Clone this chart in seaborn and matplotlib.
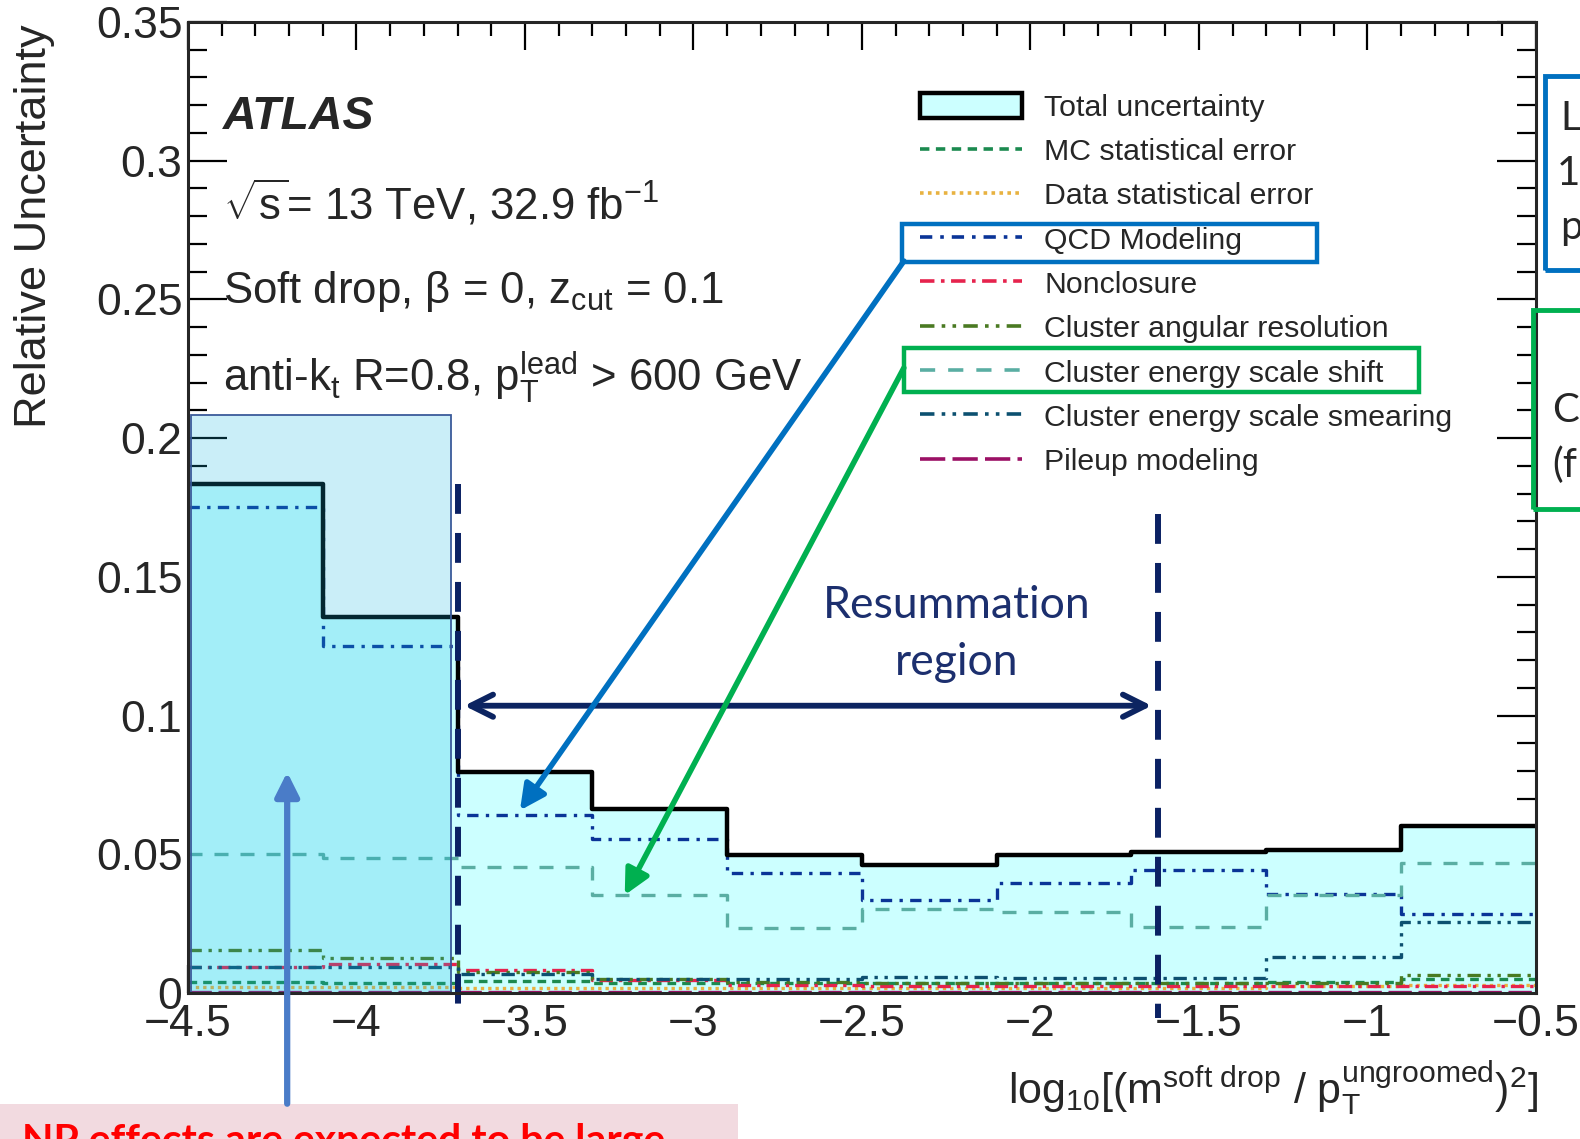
import numpy as np
import pandas as pd
import matplotlib
matplotlib.use('Agg')
import matplotlib.pyplot as plt
import seaborn as sns
from matplotlib.patches import Rectangle, Patch, FancyArrowPatch
from matplotlib.lines import Line2D
from matplotlib.ticker import MultipleLocator

# 数据：每个bin的相对不确定度
bin_edges = [-4.5, -4.1, -3.7, -3.3, -2.9, -2.5, -2.1, -1.7, -1.3, -0.9, -0.5]
total_unc = [0.1836, 0.1356, 0.0796, 0.0665, 0.0498, 0.0462, 0.0498, 0.0509, 0.0516, 0.0604]
mc_stat = [0.0040, 0.0035, 0.0044, 0.0035, 0.0035, 0.0035, 0.0035, 0.0035, 0.0040, 0.0050]
data_stat = [0.0022, 0.0022, 0.0020, 0.0020, 0.0020, 0.0020, 0.0020, 0.0020, 0.0025, 0.0030]
qcd_modeling = [0.1753, 0.1251, 0.0644, 0.0557, 0.0433, 0.0335, 0.0396, 0.0444, 0.0356, 0.0287]
nonclosure = [0.0095, 0.0105, 0.0084, 0.0047, 0.0030, 0.0025, 0.0025, 0.0025, 0.0025, 0.0025]
angular_res = [0.0156, 0.0127, 0.0075, 0.0050, 0.0040, 0.0036, 0.0036, 0.0036, 0.0036, 0.0065]
es_shift = [0.0502, 0.0487, 0.0455, 0.0353, 0.0236, 0.0305, 0.0291, 0.0240, 0.0353, 0.0469]
es_smearing = [0.0095, 0.0095, 0.0069, 0.0050, 0.0050, 0.0060, 0.0055, 0.0055, 0.0130, 0.0255]
pileup = [0.0005, 0.0005, 0.0005, 0.0005, 0.0005, 0.0005, 0.0005, 0.0005, 0.0005, 0.0005]

labels = ['Total uncertainty', 'MC statistical error', 'Data statistical error', 'QCD Modeling',
          'Nonclosure', 'Cluster angular resolution', 'Cluster energy scale shift',
          'Cluster energy scale smearing', 'Pileup modeling']

# 区域边界
resum_low, resum_high = -3.7, -1.62
np_region_low, np_region_high, np_region_top = -4.49, -3.72, 0.2084
arrow_y = 0.1036

sns.set_theme(style='ticks')
plt.rcParams['font.family'] = ['Liberation Sans', 'DejaVu Sans']
plt.rcParams['mathtext.fontset'] = 'custom'
plt.rcParams['mathtext.rm'] = 'Liberation Sans'
plt.rcParams['mathtext.it'] = 'Liberation Sans:italic'
plt.rcParams['mathtext.bf'] = 'Liberation Sans:bold'

fig = plt.figure(figsize=(15.8, 11.39), dpi=100)
ax = fig.add_axes([0.119, 0.128, 0.853, 0.8527])

edges = np.array(bin_edges)
centers = (edges[:-1] + edges[1:]) / 2

# 总不确定度填充
sns.histplot(x=centers, weights=total_unc, bins=bin_edges, element='step', fill=True,
             color='#ccffff', alpha=1, edgecolor='none', linewidth=0, ax=ax, zorder=1)

styles = [
    (mc_stat, '#1b8a4f', (0, (2.6, 1.8))),
    (data_stat, '#e8b240', (0, (1.0, 1.2))),
    (qcd_modeling, '#0a3497', (0, (3.4, 2.2, 1.0, 2.2))),
    (nonclosure, '#e6234d', (0, (4.0, 1.8, 1.0, 1.8))),
    (angular_res, '#4a7a22', (0, (4.0, 2.0, 1.0, 2.0, 1.0, 2.0))),
    (es_shift, '#5aaea3', (0, (4.2, 3.6))),
    (es_smearing, '#0c5070', (0, (4.0, 2.0, 1.0, 2.0, 1.0, 2.0))),
    (pileup, '#9b1065', (0, (7.0, 2.0))),
]
for vals, col, ls in styles:
    sns.histplot(x=centers, weights=vals, bins=bin_edges, element='step', fill=False,
                 color=col, linestyle=ls, linewidth=2.4, ax=ax, zorder=3)

# 总不确定度轮廓
sns.histplot(x=centers, weights=total_unc, bins=bin_edges, element='step', fill=False,
             color='black', linewidth=3.2, ax=ax, zorder=4)

# NP 区域阴影
ax.add_patch(Rectangle((np_region_low, 0), np_region_high - np_region_low, np_region_top,
                       facecolor=(0.07, 0.70, 0.88, 0.22), edgecolor='#3a5a9a', lw=1.3, zorder=5))

# 共振求和区域的竖线与箭头
for xv, ytop in [(resum_low, total_unc[0]), (resum_high, 0.1727)]:
    ax.plot([xv, xv], [ytop, -0.009], color='#0b2163', lw=4.3, ls=(0, (5, 3.2)),
            zorder=6, clip_on=False)
ax.annotate('', xy=(resum_low + 0.02, arrow_y), xytext=(resum_high - 0.02, arrow_y),
            arrowprops=dict(arrowstyle='<->', color='#0c2461', lw=4.2, mutation_scale=40,
                            shrinkA=0, shrinkB=0), zorder=7)
ax.text(-2.22, 0.1396, 'Resummation', family='Lato', fontsize=32, color='#1c2f6e',
        ha='center', va='center', zorder=7)
ax.text(-2.22, 0.1190, 'region', family='Lato', fontsize=32, color='#1c2f6e',
        ha='center', va='center', zorder=7)

# 坐标轴
ax.set_xlim(-4.5, -0.5)
ax.set_ylim(0, 0.35)
ax.xaxis.set_minor_locator(MultipleLocator(0.1))
ax.yaxis.set_minor_locator(MultipleLocator(0.01))
ax.set_xticks([-4.5, -4, -3.5, -3, -2.5, -2, -1.5, -1, -0.5])
ax.set_xticklabels(['\u22124.5', '\u22124', '\u22123.5', '\u22123', '\u22122.5', '\u22122',
                    '\u22121.5', '\u22121', '\u22120.5'])
ax.set_yticks([0, 0.05, 0.1, 0.15, 0.2, 0.25, 0.3, 0.35])
ax.set_yticklabels(['0', '0.05', '0.1', '0.15', '0.2', '0.25', '0.3', '0.35'])
ax.tick_params(axis='both', which='both', direction='in', top=True, right=True,
               labelsize=32, width=1.6, color='black')
ax.tick_params(axis='x', which='major', length=20, pad=8)
ax.tick_params(axis='x', which='minor', length=10)
ax.tick_params(axis='y', which='major', length=28, pad=4)
ax.tick_params(axis='y', which='minor', length=14)
for sp in ax.spines.values():
    sp.set_linewidth(2.2)
    sp.set_zorder(8)
ax.set_xlabel('')
ax.set_ylabel('')

fig.text(0.022, 0.979, 'Relative Uncertainty', rotation=90, ha='center', va='top', fontsize=32.5)
fig.text(0.9735, 0.018,
         r'$\mathrm{log}_{10}[(\mathrm{m}^{\mathrm{soft\ drop}}\ /\ \mathrm{p}_{\mathrm{T}}^{\mathrm{ungroomed}})^{2}]$',
         ha='right', va='bottom', fontsize=31)

# ATLAS 标签
ax.text(0.026, 0.902, 'ATLAS', transform=ax.transAxes, fontsize=33.5, fontweight='bold',
        fontstyle='italic', va='center', ha='left')
ax.text(0.026, 0.813, r'$\sqrt{\mathrm{s}}$= 13 TeV, 32.9 fb$^{\mathrm{-1}}$', transform=ax.transAxes,
        fontsize=31.5, va='center', ha='left')
ax.text(0.026, 0.722, r'Soft drop, β = 0, z$_{\mathrm{cut}}$ = 0.1', transform=ax.transAxes,
        fontsize=31.5, va='center', ha='left')
ax.text(0.026, 0.634, r'anti-k$_{\mathrm{t}}$ R=0.8, p$_{\mathrm{T}}^{\mathrm{lead}}$ > 600 GeV',
        transform=ax.transAxes, fontsize=31.5, va='center', ha='left')

# 图例
handles = [Patch(facecolor='#ccffff', edgecolor='black', linewidth=3.2)]
for vals, col, ls in styles:
    handles.append(Line2D([0], [0], color=col, linestyle=ls, linewidth=2.6))
leg = ax.legend(handles, labels, loc='upper left', bbox_to_anchor=(0.5275, 0.949), frameon=False,
                fontsize=21.8, handlelength=3.35, handleheight=0.9, handletextpad=0.75,
                labelspacing=0.505, borderpad=0.2)
leg.set_zorder(9)

# 彩色标注框与箭头（图像坐标）
def fx(px):
    return px / 1568.0

def fy(py):
    return 1 - py / 1130.0

fig.patches.append(Rectangle((fx(895), fy(260)), fx(1307) - fx(895), fy(222) - fy(260),
                             transform=fig.transFigure, fill=False, edgecolor='#0070c0', lw=3.2))
fig.patches.append(Rectangle((fx(897), fy(389)), fx(1408) - fx(897), fy(345) - fy(389),
                             transform=fig.transFigure, fill=False, edgecolor='#00b050', lw=3.2))
fig.patches.append(FancyArrowPatch((fx(897), fy(259)), (fx(516), fy(804)), transform=fig.transFigure,
                                   arrowstyle='-|>', mutation_scale=38, color='#0070c0', lw=4,
                                   shrinkA=0, shrinkB=0))
fig.patches.append(FancyArrowPatch((fx(897), fy(365)), (fx(620), fy(888)), transform=fig.transFigure,
                                   arrowstyle='-|>', mutation_scale=38, color='#00b050', lw=4,
                                   shrinkA=0, shrinkB=0))

# 右侧被截断的说明框
fig.patches.append(Rectangle((fx(1533), fy(268)), 0.1, fy(75) - fy(268), transform=fig.transFigure,
                             fill=False, edgecolor='#0070c0', lw=3.5))
fig.patches.append(Rectangle((fx(1521), fy(505)), 0.1, fy(308) - fy(505), transform=fig.transFigure,
                             fill=False, edgecolor='#00b050', lw=3.5))
for s, px, py in [('L', 1549, 118), ('1', 1545, 172), ('p', 1548, 226), ('C', 1540, 407), ('(f', 1540, 462)]:
    fig.text(fx(px), fy(py), s, family='Lato', fontsize=29, ha='left', va='center')

# 左下角 NP 说明框
fig.patches.append(Rectangle((0, 0), fx(732), fy(1095), transform=fig.transFigure,
                             facecolor='#f2dae0', edgecolor='none'))
fig.text(fx(22), fy(1114), 'NP effects are expected to be large', family='Lato', fontweight='bold',
         fontsize=29.5, color='#ff0000', ha='left', va='top')
fig.patches.append(FancyArrowPatch((fx(285), fy(1095)), (fx(285), fy(766)), transform=fig.transFigure,
                                   arrowstyle='-|>', mutation_scale=36, color='#4a7cc8', lw=4.5,
                                   shrinkA=0, shrinkB=0, zorder=10))

plt.savefig('out.png', dpi=100)
